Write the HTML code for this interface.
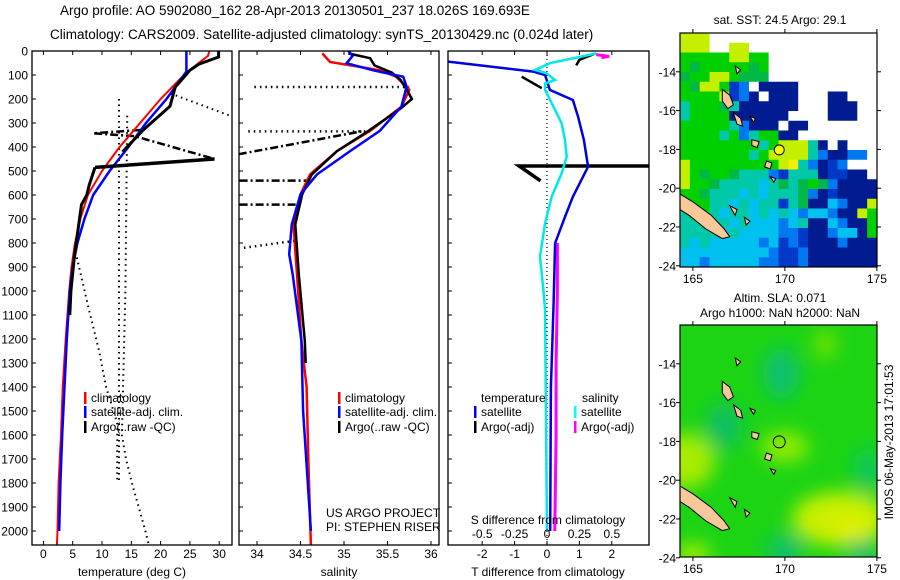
<!DOCTYPE html>
<html><head><meta charset="utf-8">
<style>
html,body{margin:0;padding:0;background:#fff;}
svg{display:block;font-family:"Liberation Sans",sans-serif;}
</style></head>
<body>
<svg id="fig" width="900" height="580" viewBox="0 0 900 580" xmlns="http://www.w3.org/2000/svg">
<defs>
<clipPath id="c1"><rect x="32" y="51" width="200" height="494"/></clipPath>
<clipPath id="c2"><rect x="239" y="51" width="200" height="494"/></clipPath>
<clipPath id="c3"><rect x="448" y="51" width="201" height="494"/></clipPath>
<clipPath id="cm1"><rect x="680" y="33" width="197" height="234"/></clipPath>
<clipPath id="cm2"><rect x="680" y="325" width="197" height="232"/></clipPath>
<filter id="blur" x="-50%" y="-50%" width="200%" height="200%"><feGaussianBlur stdDeviation="9"/></filter>
</defs>
<text x="60" y="15" font-size="13.5">Argo profile: AO 5902080_162 28-Apr-2013 20130501_237 18.026S 169.693E</text>
<text x="50" y="39" font-size="13.5">Climatology: CARS2009. Satellite-adjusted climatology: synTS_20130429.nc (0.024d later)</text>
<g id="g1" clip-path="url(#c1)"></g>
<g id="g2" clip-path="url(#c2)"></g>
<g id="g3" clip-path="url(#c3)"></g>
<g id="m1" clip-path="url(#cm1)"></g>
<g id="m2" clip-path="url(#cm2)"></g>
<g id="axes"></g>
<text x="780" y="24" font-size="12" text-anchor="middle">sat. SST: 24.5 Argo: 29.1</text>
<text x="780" y="302" font-size="12" text-anchor="middle">Altim. SLA: 0.071</text>
<text x="780" y="317" font-size="12" text-anchor="middle">Argo h1000: NaN h2000: NaN</text>
<text transform="translate(893,442) rotate(-90)" font-size="12" text-anchor="middle">IMOS 06-May-2013 17:01:53</text>
</svg>
<script>
// ---- data ----
const depthTicks=[0,100,200,300,400,500,600,700,800,900,1000,1100,1200,1300,1400,1500,1600,1700,1800,1900,2000];
const tempTicks=[0,5,10,15,20,25,30];
const salTicks=[34,34.5,35,35.5,36];
const tdiffTicks=[-2,-1,0,1,2];
const sdiffTicks=[-0.5,-0.25,0,0.25,0.5];
const tempClimDepth=[0,20,50,100,150,200,300,400,450,500,600,700,800,900,1000,1200,1400,1600,1800,2000,2060];
const tempClim=[28.3,28.1,26.5,24,22,20,16.5,13,11.5,10,7.6,6.3,5.4,4.8,4.4,3.8,3.3,3.0,2.6,2.4,2.3];
const tempSatDepth=[0,85,100,200,300,400,500,600,700,800,900,1000,1200,1400,1600,1800,2000];
const tempSat=[24.4,24.4,24,21,17.5,14.5,11.3,8.5,7,5.8,5,4.5,4,3.6,3.2,2.9,2.7];
const tempArgoDepth=[0,25,55,80,100,150,230,330,420];
const tempArgo=[29.9,29.9,26.5,25,24.3,22.5,21.6,17,13.5];
const tempArgo2Depth=[485,560,600,640,800,850,1000,1100];
const tempArgo2=[8.8,7.8,7.4,6.5,5.6,5.3,4.7,4.5];
const tempSpikeDepth=[450,485];
const tempSpike=[29.2,8.8];
const tempRawDashDepth=[329,343,355,450];
const tempRawDash=[16.5,8.5,15.6,29.2];
const tempRawDot1Depth=[200,1800];
const tempRawDot1=[12.9,12.9];
const tempRawDot2Depth=[270,1000,1600,1700,1800,2000,2060];
const tempRawDot2=[14.3,14.0,13.4,14.1,15.1,17.4,18];
const tempRawDot3Depth=[860,1070,1250,1400,1550,1800];
const tempRawDot3=[5.7,7.7,9.5,10.7,12.6,12.6];
const tempRawDot4Depth=[177,273];
const tempRawDot4=[21.7,32.2];
const salClimDepth=[10,46,80,107,162,232,333,417,514,597,722,931,1208,1400,1700,2060];
const salClim=[34.75,34.84,35.41,35.6,35.75,35.66,35.3,34.92,34.61,34.5,34.42,34.46,34.51,34.57,34.59,34.62];
const salSatDepth=[0,20,51,80,107,148,232,333,417,514,597,722,847,931,1208,1500,2000];
const salSat=[35.05,35.1,35.03,35.33,35.68,35.72,35.66,35.41,35.07,34.69,34.5,34.4,34.37,34.41,34.51,34.53,34.62];
const salArgoDepth=[10,30,60,90,120,160,200,240,333,417,514,597,722,931,1208,1300];
const salArgo=[35.05,35.3,35.35,35.55,35.65,35.72,35.78,35.65,35.28,34.92,34.63,34.52,34.44,34.48,34.55,34.56];
const salRawLines=[[150,33.97,150,35.75],[335,33.9,335,35.3],[430,33.79,335,35.2],[540,33.8,540,34.6],[640,33.8,640,34.5],[820,33.85,790,34.45]];
const salRawStyles=["dot","dot","dashdot","dashdot","dashdot","dot"];
const tdSatDepth=[0,44,86,100,162,204,274,371,482,607,690,801,1065,1400,2000];
const tdSat=[-4.6,-3.05,-0.43,-0.06,0.09,0.8,0.96,1.14,1.27,0.8,0.56,0.25,0.2,0.12,0.1];
const tdArgoDepth=[10,37,60];
const tdArgo=[1.5,1.0,0.9];
const tdArgo2Depth=[107,155];
const tdArgo2=[-0.78,-0.16];
const tdSpikeDepth=[479,479,541];
const tdSpike=[4,-0.86,-0.2];
const sdSatDepth=[10,51,79,93,121,135,162,232,301,371,440,510,607,718,857,996,1079,1400,2000];
const sdSat=[0.383,0.023,-0.092,-0.003,0.062,-0.015,-0.015,0.049,0.113,0.139,0.152,0.113,0.036,-0.015,-0.054,-0.028,-0.015,-0.01,0.0];
const sdArgoDepth=[800,1000,1300,1600,2000];
const sdArgo=[0.08,0.08,0.07,0.07,0.06];
const sdArgoTopDepth=[15,22,28];
const sdArgoTop=[0.38,0.48,0.42];
const mapLons=[165,170,175];
const mapLats=[-14,-16,-18,-20,-22,-24];
const sstGrid=[
"YYYWWWWWWWWWWWWWWWWW",
"YYYWWYYWWWWWWWWWWWWW",
"GGGGGYYGGWWWWWWWWWWW",
"GgGGGGGgGWWWWWWWWWWW",
"gGGYYGgggWWWWWWWWWWW",
"GgYYGBbWNNNNWWWWWWWW",
"GGGGYBbNWNNNWWWNNWWW",
"cGGGgcNNNNNNWWWNNNWW",
"cGGGGNNNNNNWWWWNNNWW",
"GGGGGcbNNNWNNWWWWWWW",
"GGGGcGbcGGNNWWWWWWWW",
"GGGGGGGGcGYYYcNWNWWW",
"GGGGGGGcGYYYYcbNNbbW",
"YGGGGGGGGGYycbNBbWWW",
"YGgGGgcccbBcccNBBNNW",
"YGGgccccCcgcgGgbNNNN",
"GGgcccCcCcccgbNBNNNN",
"GGGccCcCccBcgNNCbNNY",
"cGGcCccCcCcCbCCbNNYG",
"cccccCcCCCbCcNNCbNNG",
"ccccCcCCCCbbBNNbCCNG",
"cCcCCCCCbCBbBNNNbNNN",
"CCCCCCCCCbBBbNNNNNNN",
"CCbCCCCCbbBBbNNNNNNN"];
const argoLon=169.693, argoLat=-18.026;

// ---- helpers ----
const NS="http://www.w3.org/2000/svg";
function mk(tag,attrs,parent){const e=document.createElementNS(NS,tag);for(const k in attrs)e.setAttribute(k,attrs[k]);(parent||document.getElementById('axes')).appendChild(e);return e;}
const yd=d=>51+d*0.24;
const tx=v=>43.4+v*5.86;
const sx=v=>257+(v-34)*87;
const dT=v=>547+v*32.4;
const dS=v=>547+v*129.6;
function pts(xs,ds,f){return xs.map((v,i)=>f(v).toFixed(1)+','+yd(ds[i]).toFixed(1)).join(' ');}
function line(g,xs,ds,f,color,w,dash,name){
  const e=mk('polyline',{points:pts(xs,ds,f),fill:'none',stroke:color,'stroke-width':w},g);
  if(dash)e.setAttribute('stroke-dasharray',dash);
  
  
  return e;
}
const g1=document.getElementById('g1'),g2=document.getElementById('g2'),g3=document.getElementById('g3');

// panel 1
line(g1,tempRawDot1,tempRawDot1Depth,tx,'#000',2,'1.5 4','argo-raw-dotted-1');
line(g1,tempRawDot2,tempRawDot2Depth,tx,'#000',2,'1.5 4','argo-raw-dotted-2');
line(g1,tempRawDot3,tempRawDot3Depth,tx,'#000',2,'1.5 4','argo-raw-dotted-3');
line(g1,tempRawDot4,tempRawDot4Depth,tx,'#000',2,'1.5 4','argo-raw-dotted-4');
line(g1,tempRawDash,tempRawDashDepth,tx,'#000',2.5,'8 3 2 3','argo-raw-dashdot');
line(g1,tempClim,tempClimDepth,tx,'#f00',2,null,'temperature-climatology-line');
line(g1,tempSat,tempSatDepth,tx,'#00f',2.5,null,'temperature-satellite-line');
line(g1,tempArgo,tempArgoDepth,tx,'#000',3,null,'temperature-argo-line');
line(g1,tempArgo2,tempArgo2Depth,tx,'#000',3,null,'temperature-argo-line-deep');
line(g1,tempSpike,tempSpikeDepth,tx,'#000',3.5,null,'temperature-argo-spike');
// panel 2
salRawLines.forEach((s,i)=>{
  const e=mk('line',{x1:sx(s[1]),y1:yd(s[0]),x2:sx(s[3]),y2:yd(s[2]),stroke:'#000','stroke-width':2.5,'stroke-dasharray':salRawStyles[i]==='dot'?'1.5 4':'8 3 2 3'},g2);
  
  
});
line(g2,salClim,salClimDepth,sx,'#f00',2.5,null,'salinity-climatology-line');
line(g2,salArgo,salArgoDepth,sx,'#000',2.5,null,'salinity-argo-line');
line(g2,salSat,salSatDepth,sx,'#00f',2.5,null,'salinity-satellite-line');
// panel 3
const z=mk('line',{x1:dT(0),y1:51,x2:dT(0),y2:545,stroke:'#000','stroke-width':1.2,'stroke-dasharray':'1 3'},g3);

line(g3,tdArgo,tdArgoDepth,dT,'#000',2.5,null,'tdiff-argo-top');
line(g3,tdArgo2,tdArgo2Depth,dT,'#000',2.5,null,'tdiff-argo-segment');
line(g3,tdSpike,tdSpikeDepth,dT,'#000',3.5,null,'tdiff-argo-spike');
line(g3,sdArgoTop,sdArgoTopDepth,dS,'#f0f',3,null,'sdiff-argo-top');
line(g3,sdArgo,sdArgoDepth,dS,'#f0f',3,null,'sdiff-argo-line');
line(g3,tdSat,tdSatDepth,dT,'#0000e0',2.5,null,'tdiff-satellite-line');
line(g3,sdSat,sdSatDepth,dS,'#00e8e8',2.5,null,'sdiff-satellite-line');

// frames & ticks
function frame(x,w,name){const r=mk('rect',{x:x,y:51,width:w,height:494,fill:'none',stroke:'#000','stroke-width':1.3});}
frame(32,200,'temperature-frame');frame(239,200,'salinity-frame');frame(448,201,'difference-frame');
depthTicks.forEach(d=>{
  [32,239,448].forEach(x0=>{mk('line',{x1:x0,y1:yd(d),x2:x0+4,y2:yd(d),stroke:'#000'});});
  const t=mk('text',{x:28,y:yd(d)+4.5,'font-size':12,'text-anchor':'end'});t.textContent=d;
  
});
function xticks(vals,f,name,ty){vals.forEach(v=>{const x=f(v);mk('line',{x1:x,y1:545,x2:x,y2:541,stroke:'#000'});mk('line',{x1:x,y1:51,x2:x,y2:55,stroke:'#000'});
  const t=mk('text',{x:x,y:ty,'font-size':12,'text-anchor':'middle'});t.textContent=v;});}
xticks(tempTicks,tx,'temperature-tick-label',558);
xticks(salTicks,sx,'salinity-tick-label',558);
xticks(tdiffTicks,dT,'tdiff-tick-label',558);
sdiffTicks.forEach(v=>{const t=mk('text',{x:dS(v),y:538,'font-size':12,'text-anchor':'middle'});t.textContent=v;});
function txt(s,x,y,name,anchor){const t=mk('text',{x:x,y:y,'font-size':12,'text-anchor':anchor||'start'});t.textContent=s;return t;}
txt('temperature (deg C)',132,576,'temperature-axis-title','middle');
txt('salinity',339,576,'salinity-axis-title','middle');
txt('T difference from climatology',548,576,'tdiff-axis-title','middle');
txt('S difference from climatology',548,524,'sdiff-axis-title','middle');
txt('US ARGO PROJECT',326,517,'project-label');
txt('PI: STEPHEN RISER',326,531,'pi-label');
function legend(x,y,color,label,name){const r=mk('rect',{x:x,y:y-10,width:2.5,height:12,fill:color});txt(label,x+7,y,name);}
legend(84,402,'#f00','climatology','legend-temp-climatology');
legend(84,416,'#00f','satellite-adj. clim.','legend-temp-satellite');
legend(84,431,'#000','Argo(..raw -QC)','legend-temp-argo');
legend(338,402,'#f00','climatology','legend-sal-climatology');
legend(338,416,'#00f','satellite-adj. clim.','legend-sal-satellite');
legend(338,431,'#000','Argo(..raw -QC)','legend-sal-argo');
txt('temperature',481,402,'legend-temperature-heading');
txt('salinity',582,402,'legend-salinity-heading');
legend(474,416,'#00f','satellite','legend-tdiff-satellite');
legend(474,431,'#000','Argo(-adj)','legend-tdiff-argo');
legend(574,416,'#0ff','satellite','legend-sdiff-satellite');
legend(574,431,'#f0f','Argo(-adj)','legend-sdiff-argo');

// maps
const lonX=l=>680+(l-164.3)*18.4;
const latY1=l=>33+(-12-l)*19.4;
const latY2=l=>325+(-12-l)*19.4;
const pal={Y:'#c4f000',y:'#f0f000',G:'#00d000',g:'#00b848',c:'#00c8a8',C:'#00c0f0',b:'#0078f0',B:'#0038c8',N:'#001c90',W:'#ffffff'};
const m1=document.getElementById('m1'),m2=document.getElementById('m2');
const cw=197/20,ch=234/24;
sstGrid.forEach((row,r)=>{for(let c=0;c<row.length;c++){
  const e=mk('rect',{x:(680+c*cw).toFixed(2),y:(33+r*ch).toFixed(2),width:(cw+0.6).toFixed(2),height:(ch+0.6).toFixed(2),fill:pal[row[c]]},m1);
  
  
}});
// SLA map smooth field
mk('rect',{x:680,y:325,width:197,height:232,fill:'#1cd414'},m2);
const bl=mk('g',{filter:'url(#blur)'},m2);
[[164.6,-19,1.6,1.4,'#a8ec00'],[173,-22,2.6,1.4,'#c8f000'],[173.5,-22.4,1.2,0.6,'#e0ee00'],[169.8,-14.5,1,1.3,'#10c070'],[166.7,-17.2,1,1.2,'#10c060'],[170,-23.6,1,0.8,'#10c070'],[174.2,-23.7,0.9,0.6,'#10c070'],[170,-18.3,1.3,0.8,'#90ec00'],[172.2,-13,0.6,0.8,'#70e400'],[165,-23.8,1,0.5,'#b0f000'],[174.5,-19.5,0.8,1.2,'#10c858']].forEach(a=>{
  mk('ellipse',{cx:lonX(a[0]),cy:latY2(a[1]),rx:a[2]*18.4,ry:a[3]*19.4,fill:a[4]},bl);
});
const islands=[[[164.3,-20.3],[165,-20.7],[166,-21.4],[166.7,-22.1],[167,-22.5],[166.6,-22.6],[165.7,-22.1],[164.8,-21.4],[164.3,-21.1]],
[[166.6,-14.9],[167.0,-15.2],[167.2,-15.7],[166.9,-15.9],[166.6,-15.5]],
[[167.2,-16.1],[167.6,-16.4],[167.7,-16.8],[167.4,-16.7]],
[[168.1,-16.3],[168.4,-16.4],[168.3,-16.6]],
[[168.2,-17.5],[168.6,-17.6],[168.5,-17.9],[168.2,-17.8]],
[[169.0,-18.6],[169.3,-18.7],[169.2,-19.0],[168.9,-18.9]],
[[169.2,-19.4],[169.5,-19.5],[169.4,-19.7]],
[[167.0,-20.9],[167.4,-21.1],[167.3,-21.4]],
[[167.8,-21.5],[168.1,-21.7],[167.9,-21.9]],
[[167.3,-13.7],[167.6,-13.9],[167.4,-14.1]]];
[[m1,latY1],[m2,latY2]].forEach(([g,ly])=>{
  islands.forEach(p=>{const e=mk('polygon',{points:p.map(q=>lonX(q[0]).toFixed(1)+','+ly(q[1]).toFixed(1)).join(' '),fill:'#f8c898',stroke:'#000','stroke-width':1},g);
    });
});
const pt1=mk('circle',{cx:lonX(argoLon),cy:latY1(argoLat),r:5,fill:'#ffff00',stroke:'#000'},m1);

const pt2=mk('circle',{cx:lonX(argoLon),cy:latY2(argoLat),r:6,fill:'none',stroke:'#000'},m2);

[[33,267,latY1,'sst-map'],[325,557,latY2,'sla-map']].forEach(([t,b,ly,nm])=>{
  const r=mk('rect',{x:680,y:t,width:197,height:b-t,fill:'none',stroke:'#000','stroke-width':1.2});
  mapLons.forEach(l=>{const x=lonX(l);mk('line',{x1:x,y1:b,x2:x,y2:b+4,stroke:'#000'});mk('line',{x1:x,y1:t,x2:x,y2:t-4,stroke:'#000'});
    const s=txt(String(l),x,b+16,nm+'-lon-label','middle');});
  mapLats.forEach(l=>{const y=ly(l);mk('line',{x1:680,y1:y,x2:676,y2:y,stroke:'#000'});mk('line',{x1:877,y1:y,x2:881,y2:y,stroke:'#000'});
    txt(String(l),676,y+4.5,nm+'-lat-label','end');});
});
</script>
</body></html>
